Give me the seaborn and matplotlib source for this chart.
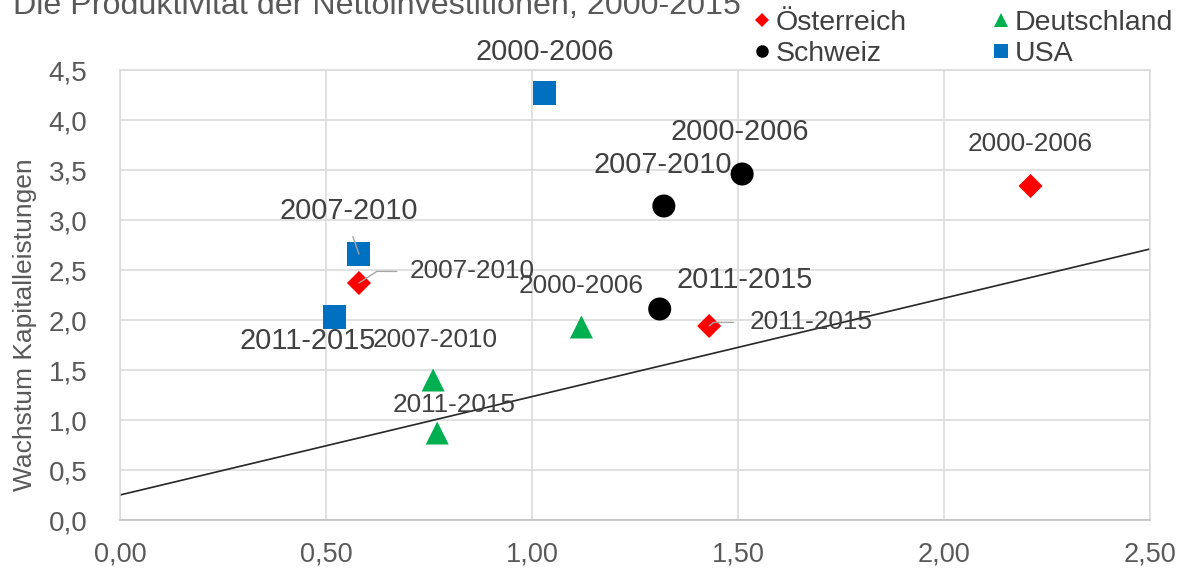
import pandas as pd
import matplotlib.pyplot as plt
import seaborn as sns
from matplotlib.lines import Line2D
from matplotlib.ticker import FuncFormatter, MultipleLocator


zeitraeume = ['2000-2006', '2007-2010', '2011-2015']
laender = ['Österreich', 'Schweiz', 'Deutschland', 'USA']

# x = Produktivität der Nettoinvestitionen, y = Wachstum Kapitalleistungen
oesterreich_x = [2.21, 0.58, 1.43]
oesterreich_y = [3.34, 2.37, 1.94]
schweiz_x = [1.51, 1.32, 1.31]
schweiz_y = [3.46, 3.14, 2.11]
deutschland_x = [1.12, 0.76, 0.77]
deutschland_y = [1.93, 1.40, 0.87]
usa_x = [1.03, 0.58, 0.52]
usa_y = [4.27, 2.66, 2.03]

# Trendlinie
trend_x = [0.0, 2.5]
trend_y = [0.25, 2.71]

rows = []
for land, xs, ys in zip(laender,
                        [oesterreich_x, schweiz_x, deutschland_x, usa_x],
                        [oesterreich_y, schweiz_y, deutschland_y, usa_y]):
    for z, x, y in zip(zeitraeume, xs, ys):
        rows.append({'Land': land, 'Zeitraum': z, 'x': x, 'y': y})
df = pd.DataFrame(rows)

farben = {'Österreich': '#FF0000', 'Schweiz': '#000000', 'Deutschland': '#00B050', 'USA': '#0070C0'}
marker = {'Österreich': 'D', 'Schweiz': 'o', 'Deutschland': '^', 'USA': 's'}
groessen = {'Österreich': 150, 'Schweiz': 275, 'Deutschland': 275, 'USA': 275}
label_fs = {'Österreich': 18.8, 'Schweiz': 20.8, 'Deutschland': 18.8, 'USA': 20.8}

# label offsets in pixels (text centre relative to point) + alignment
label_pos = {
    ('Österreich', '2000-2006'): (0, 44, 'center'),
    ('Österreich', '2007-2010'): (51, 14, 'left'),
    ('Österreich', '2011-2015'): (40, 6, 'left'),
    ('Schweiz', '2000-2006'): (-2, 44, 'center'),
    ('Schweiz', '2007-2010'): (-1, 43, 'center'),
    ('Schweiz', '2011-2015'): (85, 31, 'center'),
    ('Deutschland', '2000-2006'): (0, 43, 'center'),
    ('Deutschland', '2007-2010'): (2, 42, 'center'),
    ('Deutschland', '2011-2015'): (17, 30, 'center'),
    ('USA', '2000-2006'): (0, 43, 'center'),
    ('USA', '2007-2010'): (-10, 45, 'center'),
    ('USA', '2011-2015'): (-27, -22, 'center'),
}
leader = {
    ('Österreich', '2007-2010'): dict(relpos=(0, 0.5), connectionstyle='angle,angleA=0,angleB=33,rad=0', shrinkA=7),
    ('Österreich', '2011-2015'): dict(relpos=(0, 0.5), connectionstyle='angle,angleA=0,angleB=39,rad=0', shrinkA=9),
    ('USA', '2007-2010'): dict(relpos=(0.5, 0), connectionstyle='arc3', shrinkA=6),
}

sns.set_theme(style='white')
plt.rcParams['font.family'] = ['Liberation Sans', 'DejaVu Sans']

fig = plt.figure(figsize=(11.8, 5.69), dpi=100)
ax = fig.add_axes([120 / 1180, 1 - 520 / 569, 1030 / 1180, 450 / 569])

sns.lineplot(x=trend_x, y=trend_y, color='#262626', linewidth=1.2, ax=ax, zorder=2)
sns.scatterplot(data=df, x='x', y='y', hue='Land', style='Land', size='Land',
                palette=farben, markers=marker, sizes=groessen, linewidth=0,
                legend=False, ax=ax, zorder=3, clip_on=False)

for _, r in df.iterrows():
    key = (r['Land'], r['Zeitraum'])
    dx, dy, ha = label_pos[key]
    fs = label_fs[r['Land']]
    kw = {}
    if key in leader:
        lp = leader[key]
        kw['arrowprops'] = dict(arrowstyle='-', color='#a6a6a6', lw=1.0, shrinkB=0,
                                relpos=lp['relpos'], connectionstyle=lp['connectionstyle'],
                                shrinkA=lp['shrinkA'])
    ax.annotate(r['Zeitraum'], xy=(r['x'], r['y']), xytext=(dx, dy - fs * 0.5),
                textcoords='offset pixels', ha=ha, va='baseline', fontsize=fs,
                color='#404040', annotation_clip=False, zorder=4, **kw)

ax.set_xlim(0, 2.5)
ax.set_ylim(0, 4.5)
ax.xaxis.set_major_locator(MultipleLocator(0.5))
ax.yaxis.set_major_locator(MultipleLocator(0.5))
ax.xaxis.set_major_formatter(FuncFormatter(lambda v, _: f"{v:.2f}".replace('.', ',')))
ax.yaxis.set_major_formatter(FuncFormatter(lambda v, _: f"{v:.1f}".replace('.', ',')))
ax.grid(True, color='#d9d9d9', linewidth=1.1)
ax.set_axisbelow(True)
for s in ax.spines.values():
    s.set_color('#d9d9d9')
    s.set_linewidth(1.1)
ax.spines['bottom'].set_color('#bfbfbf')
ax.tick_params(axis='x', length=0, pad=15.5, labelsize=19.5, labelcolor='#595959')
ax.tick_params(axis='y', length=0, pad=23.5, labelsize=20, labelcolor='#595959')
ax.set_xlabel('')
ax.set_ylabel('Wachstum Kapitalleistungen', fontsize=19, color='#595959')
ax.yaxis.set_label_coords(-0.0806, 0.434)

# legend
handles = [
    Line2D([], [], linestyle='none', marker='D', markersize=6.8, color='#FF0000', markeredgewidth=0),
    Line2D([], [], linestyle='none', marker='o', markersize=9, color='#000000', markeredgewidth=0),
    Line2D([], [], linestyle='none', marker='^', markersize=10.5, color='#00B050', markeredgewidth=0),
    Line2D([], [], linestyle='none', marker='s', markersize=9.4, color='#0070C0', markeredgewidth=0),
]
leg = fig.legend(handles, laender, loc='upper left', bbox_to_anchor=(753.5 / 1180, 1 - 10 / 569),
                 ncol=2, frameon=False, fontsize=20.5, handlelength=0.6, handletextpad=0.19,
                 columnspacing=3.0, labelspacing=0.16, borderpad=0, borderaxespad=0)
for t in leg.get_texts():
    t.set_color('#404040')

fig.text(13 / 1180, 1 - 14 / 569, 'Die Produktivität der Nettoinvestitionen, 2000-2015',
         fontsize=23.2, color='#595959', va='baseline', ha='left')

fig.savefig('out.png', dpi=100)
plt.close()
